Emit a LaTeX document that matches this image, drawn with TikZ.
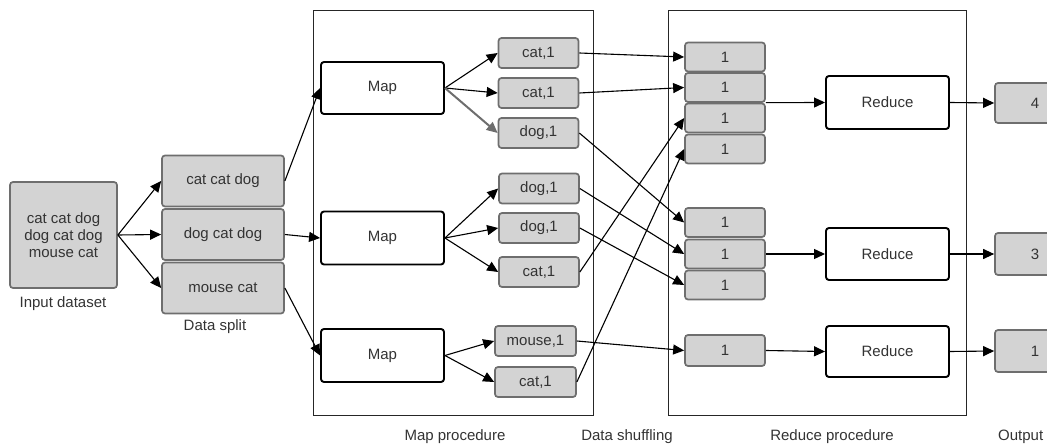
\documentclass[tikz,border=0pt]{standalone}
\usepackage{fontspec}
\setmainfont{Liberation Sans}
\usetikzlibrary{arrows.meta}
\definecolor{boxfill}{HTML}{D3D3D3}
\definecolor{boxline}{HTML}{6E6E6E}
\definecolor{txt}{HTML}{333333}
\begin{document}
\begin{tikzpicture}[x=1pt,y=-1pt,
  every node/.style={font=\fontsize{15}{17}\selectfont, text=txt, inner sep=0pt},
  graybox/.style={draw=boxline, fill=boxfill, line width=1.7pt, rounded corners=3pt, align=center},
  whitebox/.style={draw=black, fill=white, line width=1.9pt, rounded corners=3pt, minimum width=123pt},
  kv/.style={graybox, minimum width=80pt, minimum height=30pt},
  one/.style={graybox, minimum width=80pt, minimum height=29pt},
  frame/.style={draw=black!85, line width=1pt},
  conn/.style={draw=black, line width=1.1pt, -{Triangle[length=11pt,width=10pt]}},
  gconn/.style={draw=boxline, line width=2pt, -{Triangle[length=11pt,width=10pt]}},
  lbl/.style={text=txt}
]
\useasboundingbox (0,0) rectangle (1047,446);
\clip (0,0) rectangle (1047,446);

% frames
\draw[frame] (313,11) rectangle (593,415);
\draw[frame] (668,11) rectangle (966,415);

% input
\node[graybox, minimum width=107pt, minimum height=106pt] (inp) at (63.5,235) {cat cat dog\\dog cat dog\\mouse cat};
\node[lbl] (linp) at (63,304) {Input dataset};

% split
\node[graybox, minimum width=122pt, minimum height=51pt] (s1) at (223,181) {cat cat dog};
\node[graybox, minimum width=122pt, minimum height=51pt] (s2) at (223,234.5) {dog cat dog};
\node[graybox, minimum width=122pt, minimum height=51pt] (s3) at (223,288) {mouse cat};
\node[lbl] (lsplit) at (215,327) {Data split};

% maps
\node[whitebox, minimum height=52pt] (m1) at (382.5,88) {Map};
\node[whitebox, minimum height=53pt] (m2) at (382.5,238) {Map};
\node[whitebox, minimum height=53pt] (m3) at (382.5,355.5) {Map};

% key-value pairs
\node[kv] (k1) at (538.5,53) {cat,1};
\node[kv] (k2) at (538.5,93) {cat,1};
\node[kv] (k3) at (538.5,133) {dog,1};
\node[kv] (k4) at (539,188.5) {dog,1};
\node[kv] (k5) at (539,228) {dog,1};
\node[kv] (k6) at (539,272) {cat,1};
\node[kv, minimum width=81pt] (k7) at (535.5,341) {mouse,1};
\node[kv, minimum width=81pt] (k8) at (535.5,382) {cat,1};

% reduce inputs
\node[one] (a1) at (725,57) {1};
\node[one] (a2) at (725,87.5) {1};
\node[one] (a3) at (725,118) {1};
\node[one] (a4) at (725,149) {1};
\node[one] (b1) at (725,222.5) {1};
\node[one] (b2) at (725,254) {1};
\node[one] (b3) at (725,285) {1};
\node[one, minimum height=31pt] (c1) at (725,350.5) {1};

% reducers
\node[whitebox, minimum height=53pt] (r1) at (887.5,102.5) {Reduce};
\node[whitebox, minimum height=52pt] (r2) at (887.5,254) {Reduce};
\node[whitebox, minimum height=51pt] (r3) at (887.5,351.5) {Reduce};

% outputs
\node[graybox, minimum width=80pt, minimum height=40pt] (o1) at (1035,103) {4};
\node[graybox, minimum width=80pt, minimum height=42pt] (o2) at (1035,254) {3};
\node[graybox, minimum width=80pt, minimum height=42pt] (o3) at (1035,351) {1};

% labels
\node[lbl] (lmap) at (455,437) {Map procedure};
\node[lbl] (lshuf) at (627,437) {Data shuffling};
\node[lbl] (lred) at (832,437) {Reduce procedure};
\node[lbl, anchor=west] (lout) at (998,437) {Output};

% input -> split
\draw[conn] (inp.east) -- (s1.west);
\draw[conn] (inp.east) -- (s2.west);
\draw[conn] (inp.east) -- (s3.west);

% split -> map
\draw[conn] (s1.east) -- (m1.west);
\draw[conn] (s2.east) -- (m2.west);
\draw[conn] (s3.east) -- (m3.west);

% map -> pairs
\draw[conn] (m1.east) -- (k1.west);
\draw[conn] (m1.east) -- (k2.west);
\draw[gconn] (m1.east) -- (k3.west);
\draw[conn] (m2.east) -- (k4.west);
\draw[conn] (m2.east) -- (k5.west);
\draw[conn] (m2.east) -- (k6.west);
\draw[conn] (m3.east) -- (k7.west);
\draw[conn] (m3.east) -- (k8.west);

% shuffle
\draw[conn] (k1.east) -- (a1.west);
\draw[conn] (k2.east) -- (a2.west);
\draw[conn] (k3.east) -- (b1.west);
\draw[conn] (k4.east) -- (b2.west);
\draw[conn] (k5.east) -- (b3.west);
\draw[conn] (k6.east) -- (a3.west);
\draw[conn] (k8.east) -- (a4.west);
\draw[conn] (k7.east) -- (c1.west);

% groups -> reducers
\draw[conn] (a3.north east) -- (r1.west);
\draw[conn] (b2.east) -- (r2.west);
\draw[conn] (c1.east) -- (r3.west);

% reducers -> outputs
\draw[conn] (r1.east) -- (o1.west);
\draw[conn] (r2.east) -- (o2.west);
\draw[conn] (r3.east) -- (o3.west);
\end{tikzpicture}
\end{document}
